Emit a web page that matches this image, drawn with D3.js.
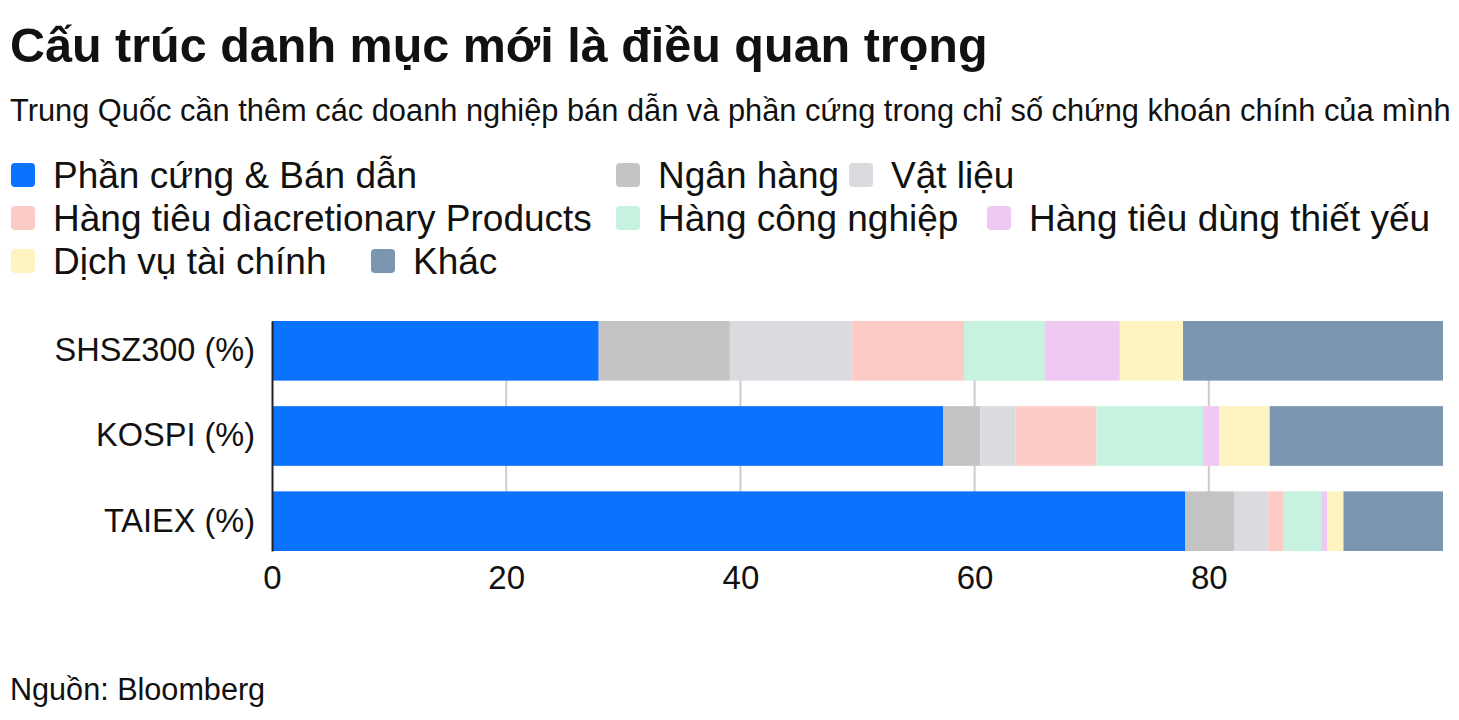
<!DOCTYPE html>
<html>
<head>
<meta charset="utf-8">
<script src="https://cdn.jsdelivr.net/npm/d3@7"></script>
<style>
  body { margin: 0; background: #fff; }
  text { font-family: "Liberation Sans", Arial, sans-serif; fill: #111; }
</style>
</head>
<body>
<svg id="chart" width="1459" height="720"></svg>
<script>
// dữ liệu
var indexes = ["SHSZ300 (%)", "KOSPI (%)", "TAIEX (%)"]
var sectors = ["Phần cứng & Bán dẫn", "Ngân hàng", "Vật liệu", "Hàng tiêu dìacretionary Products",
    "Hàng công nghiệp", "Hàng tiêu dùng thiết yếu", "Dịch vụ tài chính", "Khác"]
var shsz300 = [27.9, 11.2, 10.4, 9.6, 6.9, 6.4, 5.4, 22.2]
var kospi = [57.3, 3.2, 3.0, 6.9, 9.1, 1.4, 4.3, 14.8]
var taiex = [78.0, 4.2, 2.8, 1.4, 3.2, 0.5, 1.4, 8.5]
var xTicks = [0, 20, 40, 60, 80]

var colors = ["#0a72fc", "#c4c4c4", "#d9dbdf", "#fccbc6", "#c6f2df", "#efc9f2", "#fef4c1", "#7b96b1"]

var width = 1459
var height = 720
var margin = { top: 321, right: 16, bottom: 169, left: 272 }

var svg = d3.select("#chart")

// tiêu đề
svg.append("text")
    .attr("x", 10).attr("y", 62)
    .style("font-size", "48.5px").style("font-weight", "bold")
    .text("Cấu trúc danh mục mới là điều quan trọng")
svg.append("text")
    .attr("x", 10).attr("y", 121)
    .style("font-size", "30.8px")
    .text("Trung Quốc cần thêm các doanh nghiệp bán dẫn và phần cứng trong chỉ số chứng khoán chính của mình")

// chú giải (vị trí theo hàng)
var legendPos = [[10, 0], [615, 0], [848, 0], [10, 1], [615, 1], [986, 1], [10, 2], [370, 2]]
var legend = svg.append("g").attr("class", "legend")
sectors.forEach(function (s, i) {
    var g = legend.append("g")
        .attr("transform", "translate(" + legendPos[i][0] + "," + (175 + legendPos[i][1] * 43) + ")")
    g.append("rect")
        .attr("x", 1).attr("y", -12).attr("width", 24).attr("height", 24)
        .attr("rx", 4).attr("fill", colors[i])
    g.append("text")
        .attr("x", 43).attr("y", 13)
        .style("font-size", "37px")
        .text(s)
})

// stack
var rows = indexes.map(function (name, i) {
    var vals = [shsz300, kospi, taiex][i]
    var row = { name: name }
    sectors.forEach(function (s, j) { row[s] = vals[j] })
    return row
})
var series = d3.stack().keys(sectors)(rows)

var xScale = d3.scaleLinear()
    .domain([0, 100])
    .range([margin.left, width - margin.right])
var yScale = d3.scaleBand()
    .domain(indexes)
    .range([margin.top, height - margin.bottom])
    .paddingInner(0.3)
    .paddingOuter(0)

// lưới
svg.append("g")
    .selectAll("line")
    .data(xTicks.slice(1))
    .enter().append("line")
    .attr("x1", function (d) { return xScale(d) })
    .attr("x2", function (d) { return xScale(d) })
    .attr("y1", margin.top)
    .attr("y2", height - margin.bottom)
    .attr("stroke", "#cccccc")
    .attr("stroke-width", 2)

// các thanh
svg.append("g")
    .selectAll("g")
    .data(series)
    .enter().append("g")
    .attr("fill", function (d, i) { return colors[i] })
    .selectAll("rect")
    .data(function (d) { return d })
    .enter().append("rect")
    .attr("x", function (d) { return xScale(d[0]) })
    .attr("y", function (d) { return yScale(d.data.name) })
    .attr("width", function (d) { return xScale(d[1]) - xScale(d[0]) })
    .attr("height", yScale.bandwidth())

// trục y
var yAxis = svg.append("g")
    .attr("transform", "translate(" + margin.left + ",0)")
    .call(d3.axisLeft(yScale).tickSize(0).tickPadding(17))
yAxis.select(".domain").attr("stroke", "#222").attr("stroke-width", 2)
yAxis.selectAll("text").style("font-size", "32.5px").attr("fill", "#111")

// trục x
var xAxis = svg.append("g")
    .attr("transform", "translate(0," + (height - margin.bottom) + ")")
    .call(d3.axisBottom(xScale).tickValues(xTicks).tickSize(0).tickPadding(15))
xAxis.select(".domain").remove()
xAxis.selectAll("text").style("font-size", "33px").attr("fill", "#111")

// nguồn
svg.append("text")
    .attr("x", 10).attr("y", 700)
    .style("font-size", "30.6px")
    .text("Nguồn: Bloomberg")
</script>
</body>
</html>
